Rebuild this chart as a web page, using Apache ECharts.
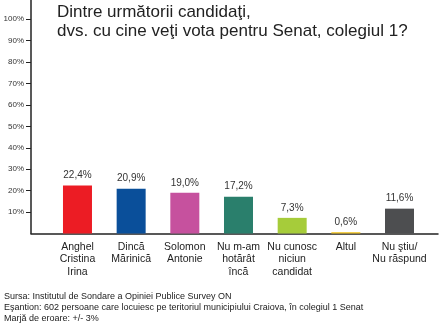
<!DOCTYPE html>
<html>
<head>
<meta charset="utf-8">
<script src="https://cdn.jsdelivr.net/npm/echarts@6/dist/echarts.min.js"></script>
<style>html,body{margin:0;padding:0;background:#fff}#c{width:441px;height:334px}</style>
</head>
<body>
<div id="c"></div>
<script>
var categories = ["Anghel\nCristina\nIrina", "Dincă\nMărinică", "Solomon\nAntonie", "Nu m-am\nhotărât\nîncă", "Nu cunosc\nniciun\ncandidat", "Altul", "Nu ştiu/\nNu răspund"];
var values = [22.4, 20.9, 19.0, 17.2, 7.3, 0.6, 11.6];
var colors = ["#ec1c24", "#0a4f9a", "#c6519e", "#2a7f6c", "#a6cc3a", "#f2c31a", "#4d4e50"];
var yTicks = [10, 20, 30, 40, 50, 60, 70, 80, 90, 100];
var titleText = "Dintre următorii candidaţi,\ndvs. cu cine veţi vota pentru Senat, colegiul 1?";
var footerText = "Sursa: Institutul de Sondare a Opiniei Publice Survey ON\nEşantion: 602 persoane care locuiesc pe teritoriul municipiului Craiova, în colegiul 1 Senat\nMarjă de eroare: +/- 3%";

var font = "'Liberation Sans', Arial, sans-serif";
var chart = echarts.init(document.getElementById('c'), null, {renderer: 'canvas'});
var idx = categories.map(function (c, i) { return i; });
chart.setOption({
  animation: false,
  backgroundColor: '#fff',
  title: [
    {text: titleText, left: 57, top: 3, padding: 0, textStyle: {fontFamily: font, fontSize: 17, fontWeight: 'normal', color: '#222', lineHeight: 19}},
    {text: footerText, left: 4, top: 291, padding: 0, textStyle: {fontFamily: font, fontSize: 9, fontWeight: 'normal', color: '#222', lineHeight: 11.2}}
  ],
  grid: {left: 31, right: 3, top: 0, bottom: 100.5, containLabel: false},
  xAxis: {
    type: 'value', min: -0.866, max: 6.717,
    splitLine: {show: false},
    axisLine: {show: true, lineStyle: {color: '#222', width: 1.5}},
    axisTick: {show: false},
    axisLabel: {
      customValues: idx,
      formatter: function (v) { return categories[Math.round(v)]; },
      fontFamily: font, fontSize: 10.5, color: '#222', lineHeight: 12.5, margin: 7, align: 'center'
    }
  },
  yAxis: {
    type: 'value', min: 0, max: 109, position: 'left',
    splitLine: {show: false},
    axisLine: {show: true, onZero: false, lineStyle: {color: '#222', width: 1.5}},
    axisTick: {show: true, customValues: yTicks, length: 5, lineStyle: {color: '#222', width: 1}},
    axisLabel: {customValues: yTicks, formatter: '{value}%', fontFamily: font, fontSize: 8, color: '#333', margin: 7}
  },
  series: [{
    type: 'bar',
    barWidth: 29,
    data: values.map(function (v, i) { return {value: [i, v], itemStyle: {color: colors[i]}}; }),
    label: {
      show: true, position: 'top', distance: 5,
      fontFamily: font, fontSize: 10, color: '#333',
      formatter: function (p) { return p.value[1].toFixed(1).replace('.', ',') + '%'; }
    }
  }]
});
</script>
</body>
</html>
